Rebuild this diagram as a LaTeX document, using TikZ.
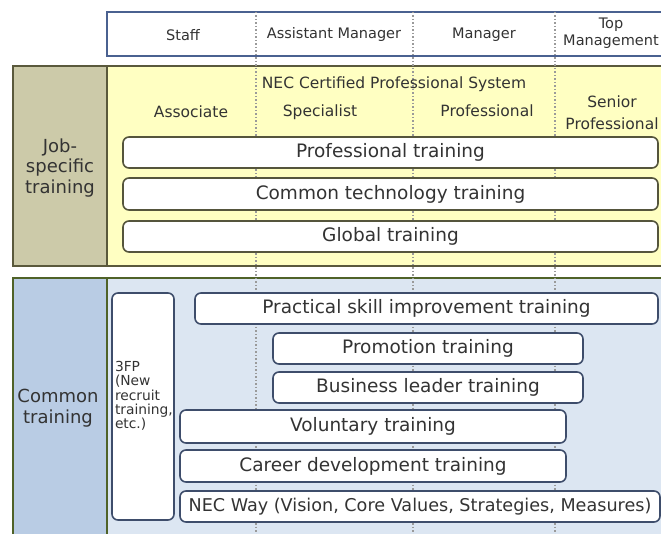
\documentclass[tikz,border=0pt]{standalone}
\usepackage{fontspec}
\setmainfont{DejaVu Sans}
\definecolor{hdrline}{HTML}{4A6190}
\definecolor{olive}{HTML}{5A593C}
\definecolor{khaki}{HTML}{CCCAA9}
\definecolor{paleyellow}{HTML}{FFFFC2}
\definecolor{greenline}{HTML}{4F6228}
\definecolor{blueleft}{HTML}{B9CCE4}
\definecolor{blueright}{HTML}{DCE6F2}
\definecolor{boxolive}{HTML}{55553C}
\definecolor{boxblue}{HTML}{3E4D6B}
\definecolor{txt}{HTML}{333333}
\definecolor{sep}{HTML}{9A9A9A}
\tikzset{
  every node/.style={text=txt, inner sep=0pt, outer sep=0pt},
  jobbox/.style={draw=boxolive, line width=1.6pt, fill=white, rounded corners=6pt, font=\fontsize{18.5}{22}\selectfont},
  combox/.style={draw=boxblue, line width=1.6pt, fill=white, rounded corners=6pt, font=\fontsize{18.5}{22}\selectfont},
  hdrtext/.style={font=\fontsize{14.5}{17}\selectfont, align=center},
  lvltext/.style={font=\fontsize{15.5}{20}\selectfont, align=center},
  sidetext/.style={font=\fontsize{18}{20.5}\selectfont, align=center},
  sepline/.style={draw=sep, line width=1.5pt, dash pattern=on 1.5pt off 2pt},
}
\begin{document}
\begin{tikzpicture}[x=1pt,y=-1pt]
\useasboundingbox (0,0) rectangle (661,534);
\clip (0,0) rectangle (661,534);
% header
\node[draw=hdrline, line width=1.5pt, fill=white, anchor=north west, minimum width=580pt, minimum height=44pt] (header) at (107,12) {};
% job-specific section
\node[fill=paleyellow, anchor=north west, minimum width=570pt, minimum height=200pt] (jobarea) at (107,66) {};
\node[fill=khaki, anchor=north west, minimum width=94pt, minimum height=200pt] (jobside) at (13,66) {};
\draw[olive, line width=2pt] (jobside.north west) rectangle (jobarea.south east);
\draw[olive, line width=2pt] (jobside.north east) -- (jobside.south east);
% common section
\node[fill=blueright, anchor=north west, minimum width=570pt, minimum height=270pt] (comarea) at (107,278) {};
\node[fill=blueleft, anchor=north west, minimum width=94pt, minimum height=270pt] (comside) at (13,278) {};
\draw[greenline, line width=2pt] (comside.north west) rectangle (comarea.south east);
\draw[greenline, line width=2pt] (comside.north east) -- (comside.south east);
% separators
\coordinate (s1t) at (256,12); \coordinate (s1b) at (256,534);
\coordinate (s2t) at (413,12); \coordinate (s2b) at (413,534);
\coordinate (s3t) at (555,12); \coordinate (s3b) at (555,534);
\draw[sepline] (s1t) -- (s1b);
\draw[sepline] (s2t) -- (s2b);
\draw[sepline] (s3t) -- (s3b);
% header texts
\node[hdrtext] (staff) at (183,35) {Staff};
\node[hdrtext] (am) at (334,35) {Assistant Manager};
\node[hdrtext] (mgr) at (484,35) {Manager};
\node[hdrtext] (top) at (611,33) {Top\\Management};
% side labels
\node[sidetext] (joblabel) at (60,168) {Job-\\specific\\training};
\node[sidetext] (comlabel) at (58,408) {Common\\training};
% level texts
\node[lvltext] (assoc) at (191,112) {Associate};
\node[lvltext] (necc) at (394,84) {NEC Certified Professional System};
\node[lvltext] (spec) at (320,112) {Specialist};
\node[lvltext] (prof) at (487,111) {Professional};
\node[lvltext, font=\fontsize{15.5}{22}\selectfont] (senior) at (612,113) {Senior\\Professional};
% job boxes
\node[jobbox, minimum width=535pt, minimum height=31pt] (proftr) at (390.5,152.5) {Professional training};
\node[jobbox, minimum width=535pt, minimum height=32pt] (commtr) at (390.5,194) {Common technology training};
\node[jobbox, minimum width=535pt, minimum height=31pt] (globtr) at (390.5,236.5) {Global training};
% common boxes
\node[combox, minimum width=62pt, minimum height=227pt] (tfp) at (143,406.5) {};
\node[font=\fontsize{13.8}{14.3}\selectfont, align=left, anchor=west] (tfptext) at (115,396) {3FP\\(New\\recruit\\training,\\etc.)};
\node[combox, minimum width=463pt, minimum height=31pt] (practical) at (426.5,308.5) {Practical skill improvement training};
\node[combox, minimum width=310pt, minimum height=31pt] (promo) at (428,348.5) {Promotion training};
\node[combox, minimum width=310pt, minimum height=31pt] (biz) at (428,387.5) {Business leader training};
\node[combox, minimum width=386pt, minimum height=33pt] (vol) at (373,426.5) {Voluntary training};
\node[combox, minimum width=386pt, minimum height=32pt] (career) at (373,466) {Career development training};
\node[combox, minimum width=480pt, minimum height=31pt, font=\fontsize{17.6}{20}\selectfont] (necway) at (420,506.5) {NEC Way (Vision, Core Values, Strategies, Measures)};
\end{tikzpicture}
\end{document}
